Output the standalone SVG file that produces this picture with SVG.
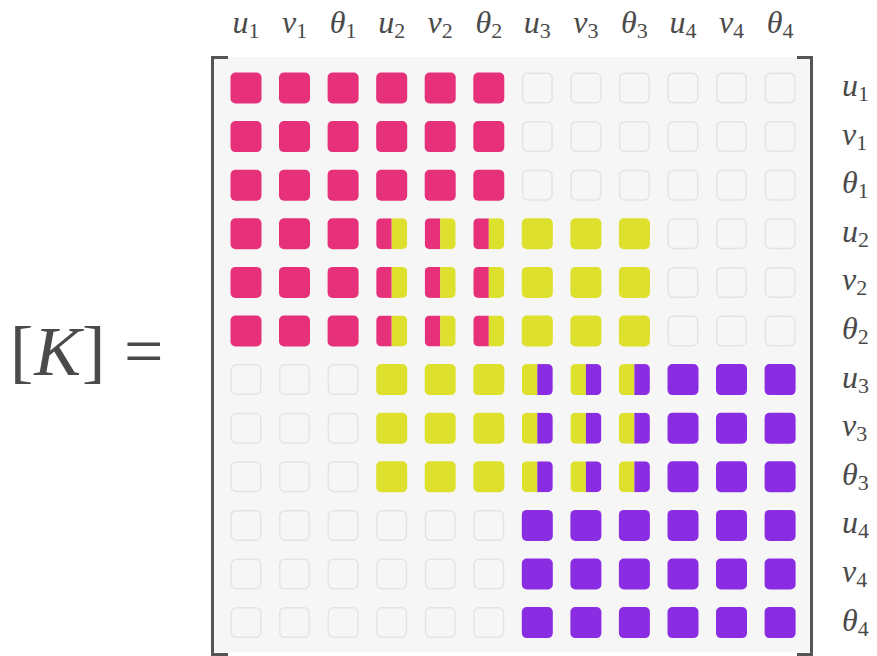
<svg xmlns="http://www.w3.org/2000/svg" xmlns:xlink="http://www.w3.org/1999/xlink" width="877" height="656" viewBox="0 0 877 656">
<style>
.lbl{font-family:"Liberation Serif","DejaVu Serif",serif;font-size:32px;fill:#4a4a4a}
.it{font-style:italic}
.sub{font-size:22px}
.big{font-size:70px}
.br{fill:none;stroke:#555;stroke-width:3}
.pk{fill:#e6307a}
.yl{fill:#dde02c}
.pu{fill:#8a2de2}
</style>
<defs>
<clipPath id="c"><rect width="31" height="31" rx="5"/></clipPath>
<g id="E"><rect x="0.75" y="0.75" width="29.5" height="29.5" rx="5" fill="#f6f6f6" stroke="#e4e4e4" stroke-width="1.5"/></g>
<g id="P"><rect class="pk" width="31" height="31" rx="5"/></g>
<g id="Y"><rect class="yl" width="31" height="31" rx="5"/></g>
<g id="U"><rect class="pu" width="31" height="31" rx="5"/></g>
<g id="PY" clip-path="url(#c)"><rect class="pk" width="15.5" height="31"/><rect class="yl" x="15.5" width="15.5" height="31"/></g>
<g id="YU" clip-path="url(#c)"><rect class="yl" width="15.5" height="31"/><rect class="pu" x="15.5" width="15.5" height="31"/></g>
</defs>

<g id="matrix-bg">
<rect x="213" y="57" width="598" height="595" fill="#f6f6f6"/>
</g>
<g id="brackets">
<path class="br" d="M228 57.5H212.5V654.5H228"/>
<path class="br" d="M797 57.5H811.5V654.5H797"/>
</g>

<g id="lhs" class="lbl big">
<text x="10" y="375">[<tspan class="it" dx="1">K</tspan><tspan dx="1">]</tspan></text>
<text x="124" y="375">=</text>
</g>

<g id="col-labels" class="lbl" text-anchor="middle">
<text x="246" y="33"><tspan class="it">u</tspan><tspan class="sub" dy="5">1</tspan></text>
<text x="294.6" y="33"><tspan class="it">v</tspan><tspan class="sub" dy="5">1</tspan></text>
<text x="343.1" y="33"><tspan class="it">θ</tspan><tspan class="sub" dy="5">1</tspan></text>
<text x="391.7" y="33"><tspan class="it">u</tspan><tspan class="sub" dy="5">2</tspan></text>
<text x="440.2" y="33"><tspan class="it">v</tspan><tspan class="sub" dy="5">2</tspan></text>
<text x="488.8" y="33"><tspan class="it">θ</tspan><tspan class="sub" dy="5">2</tspan></text>
<text x="537.3" y="33"><tspan class="it">u</tspan><tspan class="sub" dy="5">3</tspan></text>
<text x="585.9" y="33"><tspan class="it">v</tspan><tspan class="sub" dy="5">3</tspan></text>
<text x="634.4" y="33"><tspan class="it">θ</tspan><tspan class="sub" dy="5">3</tspan></text>
<text x="683" y="33"><tspan class="it">u</tspan><tspan class="sub" dy="5">4</tspan></text>
<text x="731.5" y="33"><tspan class="it">v</tspan><tspan class="sub" dy="5">4</tspan></text>
<text x="780.1" y="33"><tspan class="it">θ</tspan><tspan class="sub" dy="5">4</tspan></text>
</g>

<g id="row-labels" class="lbl">
<text x="842" y="96"><tspan class="it">u</tspan><tspan class="sub" dy="5">1</tspan></text>
<text x="842" y="144.6"><tspan class="it">v</tspan><tspan class="sub" dy="5">1</tspan></text>
<text x="842" y="193.2"><tspan class="it">θ</tspan><tspan class="sub" dy="5">1</tspan></text>
<text x="842" y="241.8"><tspan class="it">u</tspan><tspan class="sub" dy="5">2</tspan></text>
<text x="842" y="290.4"><tspan class="it">v</tspan><tspan class="sub" dy="5">2</tspan></text>
<text x="842" y="339"><tspan class="it">θ</tspan><tspan class="sub" dy="5">2</tspan></text>
<text x="842" y="387.6"><tspan class="it">u</tspan><tspan class="sub" dy="5">3</tspan></text>
<text x="842" y="436.2"><tspan class="it">v</tspan><tspan class="sub" dy="5">3</tspan></text>
<text x="842" y="484.8"><tspan class="it">θ</tspan><tspan class="sub" dy="5">3</tspan></text>
<text x="842" y="533.4"><tspan class="it">u</tspan><tspan class="sub" dy="5">4</tspan></text>
<text x="842" y="582"><tspan class="it">v</tspan><tspan class="sub" dy="5">4</tspan></text>
<text x="842" y="630.6"><tspan class="it">θ</tspan><tspan class="sub" dy="5">4</tspan></text>
</g>

<g id="row-1" transform="translate(0,72.5)">
<use href="#P" x="230.5"/><use href="#P" x="279"/><use href="#P" x="327.6"/><use href="#P" x="376.2"/><use href="#P" x="424.7"/><use href="#P" x="473.3"/>
<use href="#E" x="521.8"/><use href="#E" x="570.4"/><use href="#E" x="618.9"/><use href="#E" x="667.5"/><use href="#E" x="716"/><use href="#E" x="764.6"/>
</g>
<g id="row-2" transform="translate(0,121.1)">
<use href="#P" x="230.5"/><use href="#P" x="279"/><use href="#P" x="327.6"/><use href="#P" x="376.2"/><use href="#P" x="424.7"/><use href="#P" x="473.3"/>
<use href="#E" x="521.8"/><use href="#E" x="570.4"/><use href="#E" x="618.9"/><use href="#E" x="667.5"/><use href="#E" x="716"/><use href="#E" x="764.6"/>
</g>
<g id="row-3" transform="translate(0,169.7)">
<use href="#P" x="230.5"/><use href="#P" x="279"/><use href="#P" x="327.6"/><use href="#P" x="376.2"/><use href="#P" x="424.7"/><use href="#P" x="473.3"/>
<use href="#E" x="521.8"/><use href="#E" x="570.4"/><use href="#E" x="618.9"/><use href="#E" x="667.5"/><use href="#E" x="716"/><use href="#E" x="764.6"/>
</g>
<g id="row-4" transform="translate(0,218.3)">
<use href="#P" x="230.5"/><use href="#P" x="279"/><use href="#P" x="327.6"/><use href="#PY" x="376.2"/><use href="#PY" x="424.7"/><use href="#PY" x="473.3"/>
<use href="#Y" x="521.8"/><use href="#Y" x="570.4"/><use href="#Y" x="618.9"/><use href="#E" x="667.5"/><use href="#E" x="716"/><use href="#E" x="764.6"/>
</g>
<g id="row-5" transform="translate(0,266.9)">
<use href="#P" x="230.5"/><use href="#P" x="279"/><use href="#P" x="327.6"/><use href="#PY" x="376.2"/><use href="#PY" x="424.7"/><use href="#PY" x="473.3"/>
<use href="#Y" x="521.8"/><use href="#Y" x="570.4"/><use href="#Y" x="618.9"/><use href="#E" x="667.5"/><use href="#E" x="716"/><use href="#E" x="764.6"/>
</g>
<g id="row-6" transform="translate(0,315.5)">
<use href="#P" x="230.5"/><use href="#P" x="279"/><use href="#P" x="327.6"/><use href="#PY" x="376.2"/><use href="#PY" x="424.7"/><use href="#PY" x="473.3"/>
<use href="#Y" x="521.8"/><use href="#Y" x="570.4"/><use href="#Y" x="618.9"/><use href="#E" x="667.5"/><use href="#E" x="716"/><use href="#E" x="764.6"/>
</g>
<g id="row-7" transform="translate(0,364.1)">
<use href="#E" x="230.5"/><use href="#E" x="279"/><use href="#E" x="327.6"/><use href="#Y" x="376.2"/><use href="#Y" x="424.7"/><use href="#Y" x="473.3"/>
<use href="#YU" x="521.8"/><use href="#YU" x="570.4"/><use href="#YU" x="618.9"/><use href="#U" x="667.5"/><use href="#U" x="716"/><use href="#U" x="764.6"/>
</g>
<g id="row-8" transform="translate(0,412.7)">
<use href="#E" x="230.5"/><use href="#E" x="279"/><use href="#E" x="327.6"/><use href="#Y" x="376.2"/><use href="#Y" x="424.7"/><use href="#Y" x="473.3"/>
<use href="#YU" x="521.8"/><use href="#YU" x="570.4"/><use href="#YU" x="618.9"/><use href="#U" x="667.5"/><use href="#U" x="716"/><use href="#U" x="764.6"/>
</g>
<g id="row-9" transform="translate(0,461.3)">
<use href="#E" x="230.5"/><use href="#E" x="279"/><use href="#E" x="327.6"/><use href="#Y" x="376.2"/><use href="#Y" x="424.7"/><use href="#Y" x="473.3"/>
<use href="#YU" x="521.8"/><use href="#YU" x="570.4"/><use href="#YU" x="618.9"/><use href="#U" x="667.5"/><use href="#U" x="716"/><use href="#U" x="764.6"/>
</g>
<g id="row-10" transform="translate(0,509.9)">
<use href="#E" x="230.5"/><use href="#E" x="279"/><use href="#E" x="327.6"/><use href="#E" x="376.2"/><use href="#E" x="424.7"/><use href="#E" x="473.3"/>
<use href="#U" x="521.8"/><use href="#U" x="570.4"/><use href="#U" x="618.9"/><use href="#U" x="667.5"/><use href="#U" x="716"/><use href="#U" x="764.6"/>
</g>
<g id="row-11" transform="translate(0,558.5)">
<use href="#E" x="230.5"/><use href="#E" x="279"/><use href="#E" x="327.6"/><use href="#E" x="376.2"/><use href="#E" x="424.7"/><use href="#E" x="473.3"/>
<use href="#U" x="521.8"/><use href="#U" x="570.4"/><use href="#U" x="618.9"/><use href="#U" x="667.5"/><use href="#U" x="716"/><use href="#U" x="764.6"/>
</g>
<g id="row-12" transform="translate(0,607.1)">
<use href="#E" x="230.5"/><use href="#E" x="279"/><use href="#E" x="327.6"/><use href="#E" x="376.2"/><use href="#E" x="424.7"/><use href="#E" x="473.3"/>
<use href="#U" x="521.8"/><use href="#U" x="570.4"/><use href="#U" x="618.9"/><use href="#U" x="667.5"/><use href="#U" x="716"/><use href="#U" x="764.6"/>
</g>
</svg>
